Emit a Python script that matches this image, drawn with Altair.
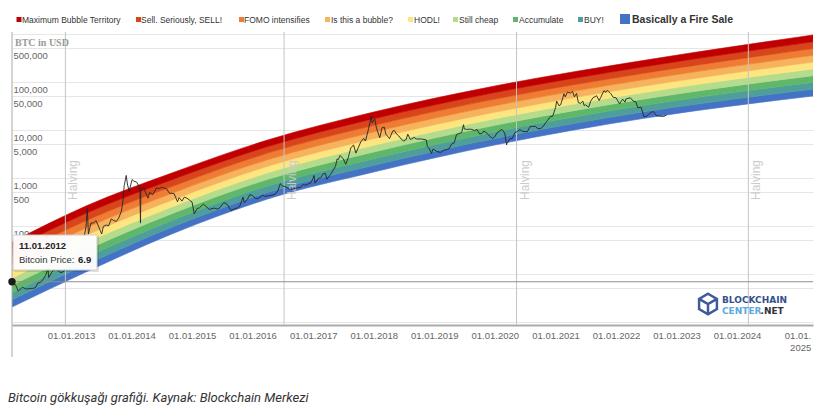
import altair as alt
import pandas as pd

# ---------------- rainbow band edges (USD) ----------------
band_dates = ["2012-01-11", "2013-04-01", "2014-09-01", "2016-04-01",
              "2018-01-01", "2020-01-01", "2022-07-01", "2025-04-03"]
fire_sale_low   = [2.05, 11.0, 68.1, 365, 1334, 4870, 17780, 51090]
buy_low         = [2.90, 15.6, 94.3, 500, 1836, 6670, 24230, 70710]
accumulate_low  = [4.11, 22.2, 130.5, 685, 2528, 9130, 33000, 97880]
still_cheap_low = [5.81, 31.6, 180.6, 938, 3481, 12510, 44960, 135500]
hodl_low        = [8.21, 45.0, 250, 1285, 4792, 17130, 61240, 187600]
bubble_low      = [11.6, 63.9, 346, 1760, 6598, 23460, 83420, 259600]
fomo_low        = [16.4, 90.9, 479, 2409, 9085, 32130, 113650, 359400]
sell_low        = [23.2, 129, 663, 3300, 12510, 44010, 154800, 497400]
max_bubble_low  = [32.9, 184, 918, 4520, 17220, 60280, 210900, 688600]
max_bubble_high = [46.4, 261, 1271, 6190, 23710, 82540, 287300, 953300]

band_names = ["Basically a Fire Sale", "BUY!", "Accumulate", "Still cheap", "HODL!",
              "Is this a bubble?", "FOMO intensifies", "Sell. Seriously, SELL!",
              "Maximum Bubble Territory"]
band_colors = ["#4472c4", "#4e9e9c", "#5fb76b", "#b5dc8d", "#fde67f",
               "#f6b25c", "#ee7d33", "#d8451b", "#c00000"]

# ---------------- BTC price (USD) ----------------
price_dates = [
    "2012-01-11", "2012-01-20", "2012-02-01", "2012-02-18", "2012-03-01", "2012-03-15", "2012-04-01", "2012-04-15",
    "2012-05-01", "2012-05-15", "2012-06-01", "2012-06-15", "2012-07-01", "2012-07-15", "2012-08-01", "2012-08-15",
    "2012-08-19", "2012-09-01", "2012-09-15", "2012-10-01", "2012-10-15", "2012-11-01", "2012-11-15", "2012-12-01",
    "2012-12-15", "2013-01-01", "2013-01-15", "2013-02-01", "2013-02-15", "2013-03-01", "2013-03-15", "2013-04-01",
    "2013-04-09", "2013-04-16", "2013-05-01", "2013-05-15", "2013-06-01", "2013-06-15", "2013-07-05", "2013-07-15",
    "2013-08-01", "2013-08-15", "2013-09-01", "2013-09-15", "2013-10-01", "2013-10-15", "2013-11-01", "2013-11-10",
    "2013-11-18", "2013-11-30", "2013-12-07", "2013-12-18", "2013-12-25", "2014-01-05", "2014-01-15", "2014-02-01",
    "2014-02-20", "2014-02-24", "2014-02-26", "2014-03-15", "2014-04-10", "2014-04-20", "2014-05-10", "2014-06-01",
    "2014-06-15", "2014-07-01", "2014-07-15", "2014-08-01", "2014-08-18", "2014-09-01", "2014-09-15", "2014-10-05",
    "2014-10-15", "2014-11-01", "2014-11-15", "2014-12-01", "2014-12-15", "2015-01-01", "2015-01-14", "2015-02-01",
    "2015-02-15", "2015-03-10", "2015-04-01", "2015-04-15", "2015-05-15", "2015-06-01", "2015-06-15", "2015-07-12",
    "2015-08-01", "2015-08-24", "2015-09-15", "2015-10-01", "2015-10-15", "2015-11-04", "2015-11-11", "2015-12-01",
    "2015-12-15", "2016-01-01", "2016-01-15", "2016-02-01", "2016-02-15", "2016-03-01", "2016-03-15", "2016-04-15",
    "2016-05-15", "2016-06-01", "2016-06-16", "2016-07-01", "2016-07-15", "2016-08-01", "2016-08-15", "2016-09-15",
    "2016-10-15", "2016-11-01", "2016-11-15", "2016-12-01", "2016-12-15", "2017-01-01", "2017-01-05", "2017-01-12",
    "2017-02-01", "2017-02-15", "2017-03-01", "2017-03-15", "2017-03-24", "2017-04-15", "2017-05-01", "2017-05-15",
    "2017-05-25", "2017-06-01", "2017-06-12", "2017-07-01", "2017-07-16", "2017-08-01", "2017-08-15", "2017-09-01",
    "2017-09-15", "2017-10-01", "2017-10-15", "2017-11-01", "2017-11-12", "2017-12-01", "2017-12-17", "2017-12-22",
    "2018-01-07", "2018-01-17", "2018-02-06", "2018-02-20", "2018-03-05", "2018-03-15", "2018-04-06", "2018-04-25",
    "2018-05-05", "2018-05-15", "2018-06-01", "2018-06-15", "2018-06-29", "2018-07-15", "2018-07-25", "2018-08-10",
    "2018-09-01", "2018-09-15", "2018-10-15", "2018-11-14", "2018-11-20", "2018-12-01", "2018-12-15", "2018-12-24",
    "2019-01-15", "2019-02-07", "2019-03-01", "2019-03-15", "2019-04-01", "2019-04-15", "2019-05-01", "2019-05-15",
    "2019-06-01", "2019-06-15", "2019-06-26", "2019-07-01", "2019-07-15", "2019-08-01", "2019-08-15", "2019-09-01",
    "2019-09-15", "2019-10-01", "2019-10-15", "2019-10-26", "2019-11-15", "2019-12-01", "2019-12-17", "2020-01-01",
    "2020-01-15", "2020-02-13", "2020-03-01", "2020-03-12", "2020-03-15", "2020-04-01", "2020-04-15", "2020-05-01",
    "2020-05-15", "2020-06-01", "2020-06-15", "2020-07-15", "2020-08-01", "2020-08-15", "2020-09-01", "2020-09-15",
    "2020-10-01", "2020-10-15", "2020-11-01", "2020-11-15", "2020-12-01", "2020-12-15", "2021-01-01", "2021-01-08",
    "2021-01-22", "2021-02-01", "2021-02-15", "2021-02-21", "2021-03-01", "2021-03-13", "2021-04-01", "2021-04-14",
    "2021-04-25", "2021-05-08", "2021-05-19", "2021-06-01", "2021-06-15", "2021-06-22", "2021-07-01", "2021-07-20",
    "2021-08-01", "2021-08-15", "2021-09-06", "2021-09-21", "2021-10-01", "2021-10-20", "2021-11-01", "2021-11-10",
    "2021-12-01", "2021-12-15", "2022-01-01", "2022-01-22", "2022-02-10", "2022-02-24", "2022-03-01", "2022-03-28",
    "2022-04-15", "2022-05-01", "2022-05-12", "2022-06-01", "2022-06-18", "2022-07-01", "2022-07-15", "2022-08-01",
    "2022-08-14", "2022-09-01", "2022-09-15", "2022-10-01", "2022-10-15", "2022-11-01",
]
price_values = [
    6.9, 6.4, 6.0, 4.4, 4.9, 5.3, 4.9, 4.9,
    5.0, 5.0, 5.2, 6.5, 6.7, 7.6, 9.4, 13.0,
    8.5, 10.0, 11.8, 12.4, 11.8, 10.6, 11.2, 12.6,
    13.3, 13.5, 14.2, 20, 27, 34, 47, 93,
    230, 68, 116, 115, 129, 100, 68, 98,
    105, 100, 140, 130, 125, 145, 205, 330,
    700, 1130, 750, 520, 680, 930, 860, 820,
    620, 115, 580, 630, 380, 500, 450, 630,
    600, 640, 620, 590, 480, 480, 470, 320,
    390, 330, 400, 380, 350, 315, 180, 230,
    240, 285, 245, 222, 237, 225, 235, 310,
    281, 210, 230, 237, 255, 400, 310, 360,
    450, 432, 380, 370, 400, 435, 415, 430,
    455, 535, 760, 675, 665, 610, 570, 608,
    640, 730, 710, 750, 780, 1000, 1130, 780,
    985, 1010, 1220, 1250, 940, 1180, 1450, 1750,
    2500, 2400, 2950, 2500, 1930, 2730, 4200, 4900,
    3300, 4400, 5700, 6700, 5900, 10800, 19300, 14000,
    17000, 11000, 6900, 11200, 11500, 8200, 6600, 9500,
    9800, 8500, 7500, 6500, 5900, 6300, 8200, 6300,
    7000, 6500, 6500, 6200, 4500, 4100, 3250, 4000,
    3600, 3400, 3800, 3900, 4100, 5100, 5400, 8000,
    8500, 8800, 12900, 10500, 10300, 10400, 10300, 9700,
    10300, 8300, 8400, 9500, 8600, 7400, 6700, 7200,
    8800, 10300, 8600, 4900, 5400, 6600, 6600, 8800,
    9300, 10200, 9400, 9200, 11800, 11900, 11900, 10800,
    10600, 11500, 13800, 16000, 19000, 19400, 29000, 40000,
    32000, 33500, 48000, 57000, 49000, 61000, 59000, 63500,
    49000, 58000, 37000, 36000, 40000, 32500, 33500, 29800,
    39800, 47000, 51700, 41000, 48000, 66000, 61000, 67500,
    57000, 48000, 47000, 35000, 44000, 38000, 44000, 47000,
    40000, 38500, 29000, 30000, 19000, 19300, 20800, 23300,
    24300, 20000, 19700, 19300, 19100, 20500,
]

halving_dates = ["2012-11-28", "2016-07-09", "2020-05-11", "2024-03-09"]
tooltip_date = "2012-01-11"
tooltip_price = 6.9

y_ticks = [1, 5, 10, 50, 100, 500, 1000, 5000, 10000, 50000, 100000, 500000, 1000000]
y_labelled = [100, 500, 1000, 5000, 10000, 50000, 100000, 500000]
x_tick_years = list(range(2013, 2026))

# ---------------- tables ----------------
edges = [fire_sale_low, buy_low, accumulate_low, still_cheap_low, hodl_low,
         bubble_low, fomo_low, sell_low, max_bubble_low, max_bubble_high]
rows = []
for i, name in enumerate(band_names):
    for d, lo, hi in zip(band_dates, edges[i], edges[i + 1]):
        rows.append({"date": pd.Timestamp(d), "lo": lo, "hi": hi, "band": name})
bands_df = pd.DataFrame(rows)
price_df = pd.DataFrame({"date": pd.to_datetime(price_dates), "price": price_values})
halving_df = pd.DataFrame({"date": pd.to_datetime(halving_dates), "label": ["Halving"] * len(halving_dates)})
tip_df = pd.DataFrame({"date": [pd.Timestamp(tooltip_date)], "price": [tooltip_price]})
one = pd.DataFrame({"a": [0]})

# ---------------- layout ----------------
W, H = 801, 293
PAD = {"left": 12, "top": 32, "right": 10, "bottom": 89}
FONT = "Liberation Sans"

x_scale = alt.Scale(domain=[alt.DateTime(year=2012, month=1, date=11),
                            alt.DateTime(year=2025, month=4, date=3)])
y_scale = alt.Scale(type="log", domain=[0.866, 1101000])
color_scale = alt.Scale(domain=band_names, range=band_colors)

x_axis = alt.Axis(
    values=[alt.DateTime(year=y, month=1, date=1) for y in x_tick_years],
    labelExpr="year(datum.value) == 2025 ? ['01.01.', '2025'] : timeFormat(datum.value, '%d.%m.%Y')",
    labelAlign={"condition": {"test": "year(datum.value) == 2025", "value": "right"}, "value": "center"},
    labelOffset={"condition": {"test": "year(datum.value) == 2025", "value": 13}, "value": 0},
    labelFlush=False, labelOverlap=False, labelLineHeight=12,
    labelFont=FONT, labelFontSize=9.5, labelColor="#666666", labelPadding=5,
    ticks=False, tickSize=0, grid=False, domain=True, domainColor="#aaaaaa", domainWidth=2,
    title=None, zindex=0,
)
labelled = " || ".join(f"datum.value == {v}" for v in y_labelled)
y_axis = alt.Axis(
    values=y_ticks,
    labelExpr=f"({labelled}) ? format(datum.value, ',') : ''",
    labelAlign="left", labelBaseline="top", labelPadding=-1, labelOffset=2,
    labelFont=FONT, labelFontSize=9.5, labelColor="#666666",
    ticks=False, tickSize=0, domain=False, grid=True, gridColor="#e6e6e6", gridWidth=1,
    title=None, zindex=0,
)

X = lambda f: alt.X(f, scale=x_scale, axis=x_axis)
Y = lambda f: alt.Y(f, scale=y_scale, axis=y_axis)

bands = alt.Chart(bands_df).mark_area(interpolate="monotone", strokeWidth=0.6, clip=True).encode(
    x=X("date:T"), y=Y("lo:Q"), y2="hi:Q",
    color=alt.Color("band:N", scale=color_scale, legend=None),
    stroke=alt.Stroke("band:N", scale=color_scale, legend=None),
)

halving_rules = alt.Chart(halving_df).mark_rule(color="#c4c4c4", strokeWidth=1).encode(
    x=X("date:T"), y=alt.value(0), y2=alt.value(H))
halving_text = alt.Chart(halving_df).mark_text(
    angle=270, align="left", baseline="top", dy=3, fontSize=12, font=FONT, color="#cccccc"
).encode(x=X("date:T"), y=alt.value(168), text="label:N")

crosshair = alt.Chart(tip_df).mark_rule(color="#8f8f8f", strokeWidth=1.2).encode(
    y=Y("price:Q"), x=alt.value(0), x2=alt.value(W))

price_line = alt.Chart(price_df).mark_line(color="#262626", strokeWidth=1, opacity=0.9).encode(
    x=X("date:T"), y=Y("price:Q"))

dot = alt.Chart(tip_df).mark_circle(size=55, color="#1a1a1a", opacity=1).encode(
    x=X("date:T"), y=Y("price:Q"))

# tooltip box
tip_shadow = alt.Chart(one).mark_rect(color="#000000", opacity=0.12).encode(
    x=alt.value(2), x2=alt.value(87), y=alt.value(204), y2=alt.value(240))
tip_box = alt.Chart(one).mark_rect(fill="#ffffff", stroke="#cfcfcf", strokeWidth=1, opacity=0.97).encode(
    x=alt.value(1), x2=alt.value(85), y=alt.value(203), y2=alt.value(238))
tip_t1 = alt.Chart(one).mark_text(align="left", baseline="middle", fontSize=9.5, fontWeight="bold",
                                  font=FONT, color="#222222").encode(
    x=alt.value(7), y=alt.value(214), text=alt.value("11.01.2012"))
tip_t2 = alt.Chart(one).mark_text(align="left", baseline="middle", fontSize=9.5,
                                  font=FONT, color="#333333").encode(
    x=alt.value(7), y=alt.value(228), text=alt.value("Bitcoin Price:"))
tip_t3 = alt.Chart(one).mark_text(align="left", baseline="middle", fontSize=9.5, fontWeight="bold",
                                  font=FONT, color="#222222").encode(
    x=alt.value(66), y=alt.value(228), text=alt.value("6.9"))

# y title
y_title = alt.Chart(one).mark_text(align="left", baseline="middle", fontSize=10, fontWeight="bold",
                                   font="Liberation Serif", color="#9a9a9a").encode(
    x=alt.value(3), y=alt.value(11), text=alt.value("BTC in USD"))

# left vertical line
left_line = alt.Chart(one).mark_rule(color="#aaaaaa", strokeWidth=1).encode(
    x=alt.value(0), y=alt.value(0), y2=alt.value(325))

# custom legend (top band first)
legend_square_x = [7, 126.5, 229.5, 315.5, 398.5, 443.5, 503.5, 568.5]
legend_text_x = [10, 129, 232, 319, 402, 447, 507, 572]
legend_layers = []
for name, sx, tx in zip(band_names[::-1][:8], legend_square_x, legend_text_x):
    legend_layers.append(alt.Chart(one).mark_square(size=25, opacity=1, color=band_colors[band_names.index(name)]).encode(
        x=alt.value(sx), y=alt.value(-12.5)))
    legend_layers.append(alt.Chart(one).mark_text(align="left", baseline="middle", fontSize=8.5,
                                                  font=FONT, color="#333333").encode(
        x=alt.value(tx), y=alt.value(-12.5), text=alt.value(name)))
legend_layers.append(alt.Chart(one).mark_square(size=100, opacity=1, color=band_colors[0]).encode(
    x=alt.value(613), y=alt.value(-13)))
legend_layers.append(alt.Chart(one).mark_text(align="left", baseline="middle", fontSize=10.5, fontWeight="bold",
                                              font=FONT, color="#333333").encode(
    x=alt.value(620), y=alt.value(-12.5), text=alt.value(band_names[0])))

# logo
cube = "M0,-1 L0.87,-0.5 L0.87,0.5 L0,1 L-0.87,0.5 L-0.87,-0.5 Z M-0.87,-0.5 L0,0 L0.87,-0.5 M0,0 L0,1"
logo_icon = alt.Chart(one).mark_point(shape=cube, size=420, filled=False, strokeWidth=2.5,
                                      color="#3d5a99", opacity=1).encode(
    x=alt.value(696), y=alt.value(272))
logo_t1 = alt.Chart(one).mark_text(align="left", baseline="middle", fontSize=9, fontWeight="bold",
                                   font="DejaVu Sans", color="#34508f").encode(
    x=alt.value(710), y=alt.value(267.5), text=alt.value("BLOCKCHAIN"))
logo_t2 = alt.Chart(one).mark_text(align="left", baseline="middle", fontSize=9, fontWeight="bold",
                                   font="DejaVu Sans", color="#5aa9e0").encode(
    x=alt.value(710), y=alt.value(278.5), text=alt.value("CENTER"))
logo_t3 = alt.Chart(one).mark_text(align="left", baseline="middle", fontSize=9, fontWeight="bold",
                                   font="DejaVu Sans", color="#333333").encode(
    x=alt.value(748.5), y=alt.value(278.5), text=alt.value(".NET"))

caption = alt.Chart(one).mark_text(align="left", baseline="middle", fontSize=13, fontStyle="italic",
                                   font="Roboto", color="#333333").encode(
    x=alt.value(-4), y=alt.value(366), text=alt.value("Bitcoin gökkuşağı grafiği. Kaynak: Blockchain Merkezi"))

chart = alt.layer(
    bands, halving_rules, halving_text, crosshair, price_line, left_line, y_title,
    logo_icon, logo_t1, logo_t2, logo_t3,
    tip_shadow, tip_box, tip_t1, tip_t2, tip_t3, dot,
    *legend_layers, caption,
).properties(
    width=W, height=H,
    autosize=alt.AutoSizeParams(type="none"),
    padding=PAD,
    background="#ffffff",
).configure_view(strokeWidth=0)

chart.save("out.html", embed_options={"renderer": "svg", "actions": False})
